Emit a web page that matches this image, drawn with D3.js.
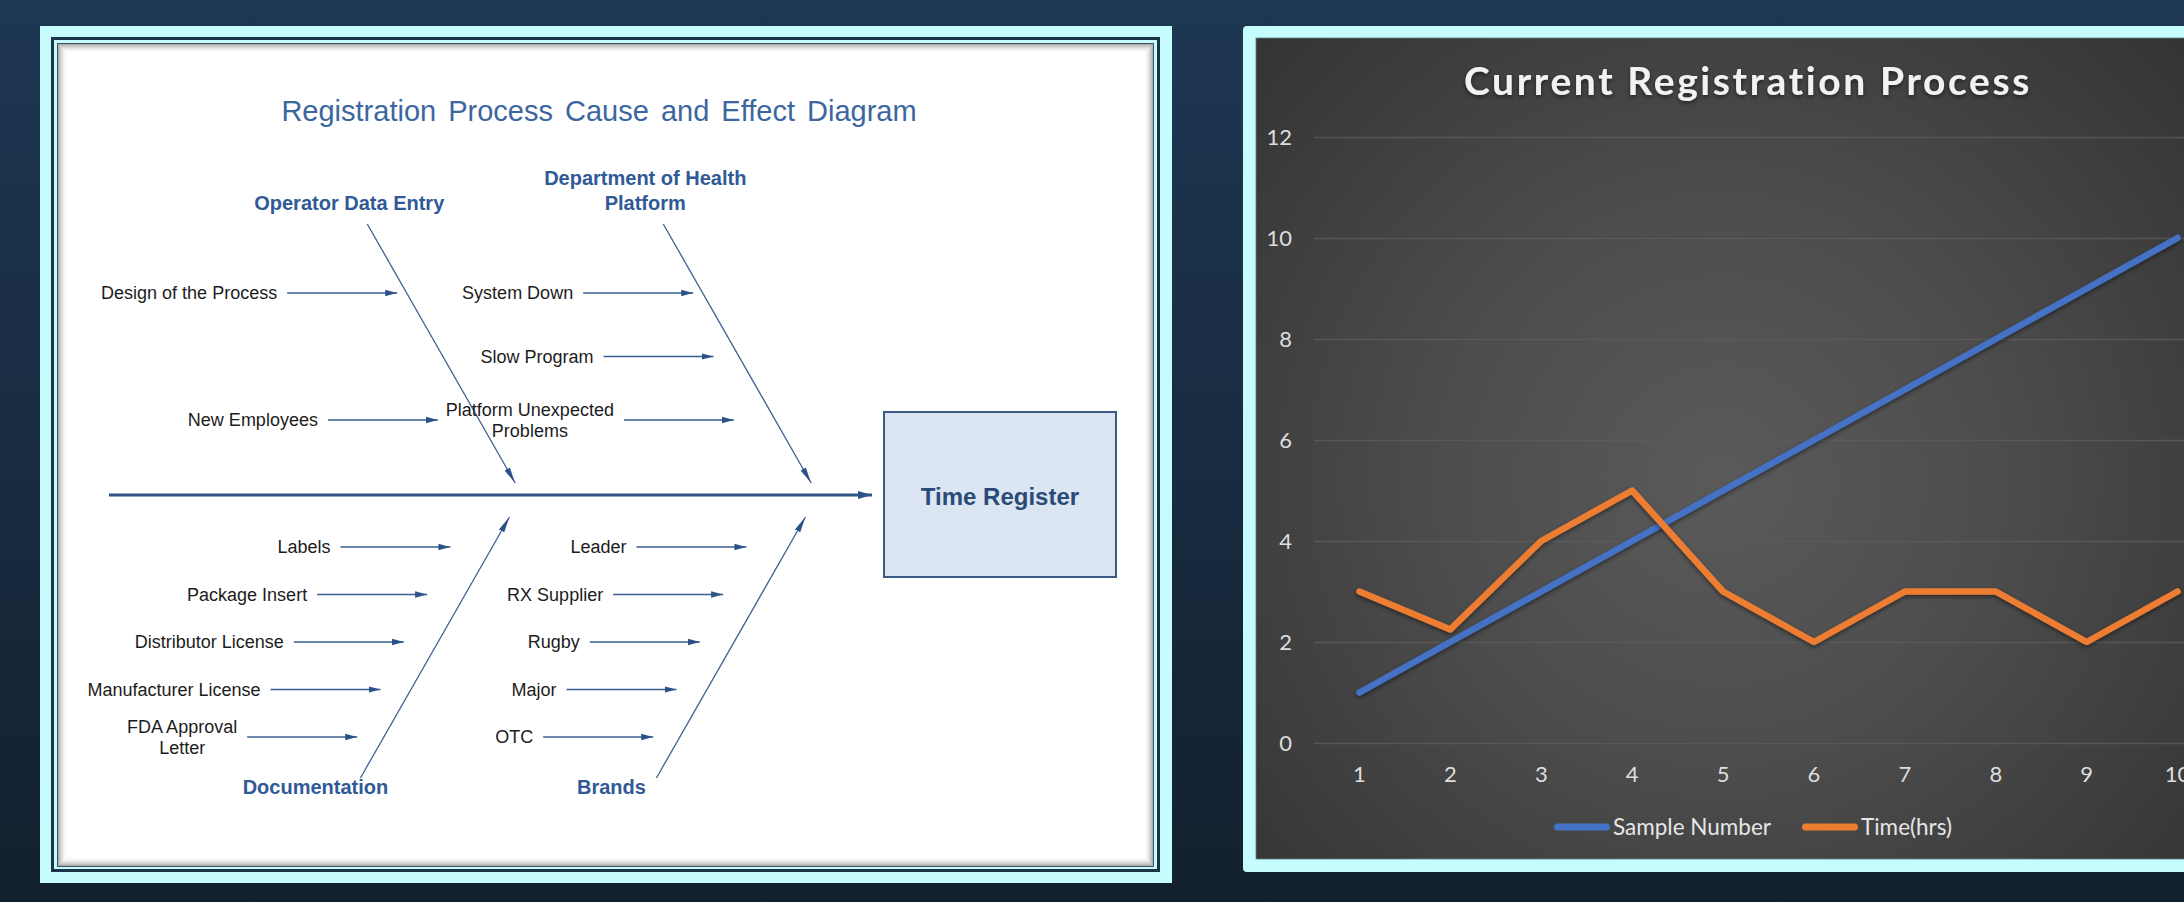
<!DOCTYPE html>
<html>
<head>
<meta charset="utf-8">
<script src="https://cdn.jsdelivr.net/npm/d3@7"></script>
<style>
html, body { margin: 0; padding: 0; }
body { width: 2184px; height: 902px; overflow: hidden; background: linear-gradient(#1e3753, #13202f); }
</style>
</head>
<body>
<div id="chart"></div>
<script>
// ---- fishbone data ----
var effect = "Time Register";
var diagramTitle = "Registration Process Cause and Effect Diagram";
var categories = ["Operator Data Entry", "Department of Health|Platform", "Documentation", "Brands"];
var operatorCauses = ["Design of the Process", "New Employees"];
var healthCauses = ["System Down", "Slow Program", "Platform Unexpected|Problems"];
var documentationCauses = ["Labels", "Package Insert", "Distributor License", "Manufacturer License", "FDA Approval|Letter"];
var brandCauses = ["Leader", "RX Supplier", "Rugby", "Major", "OTC"];
var causes = [operatorCauses, healthCauses, documentationCauses, brandCauses];

// ---- line chart data ----
var chartTitle = "Current Registration Process";
var samples = [1, 2, 3, 4, 5, 6, 7, 8, 9, 10];
var sampleNumber = [1, 2, 3, 4, 5, 6, 7, 8, 9, 10];
var timeHrs = [3, 2.25, 4, 5, 3, 2, 3, 3, 2, 3];
var yTicks = [0, 2, 4, 6, 8, 10, 12];
var seriesNames = ["Sample Number", "Time(hrs)"];
var seriesColors = ["#4472c4", "#ed7d31"];

var W = 2184, H = 902;
var svg = d3.select("#chart").append("svg").attr("width", W).attr("height", H);
var defs = svg.append("defs");

var cyan = "#c6fcfd";
var navy = "#1c3449";

defs.append("marker").attr("id", "arrow")
	.attr("viewBox", "0 0 12 8").attr("refX", 12).attr("refY", 4)
	.attr("markerWidth", 12).attr("markerHeight", 8)
	.attr("markerUnits", "userSpaceOnUse").attr("orient", "auto")
	.append("path").attr("d", "M0,0.8 L12,4 L0,7.2 Z").attr("fill", "#2c5289");
defs.append("marker").attr("id", "arrowBone")
	.attr("viewBox", "0 0 16 8").attr("refX", 16).attr("refY", 4)
	.attr("markerWidth", 16).attr("markerHeight", 8)
	.attr("markerUnits", "userSpaceOnUse").attr("orient", "auto")
	.append("path").attr("d", "M0,1 L16,4 L0,7 Z").attr("fill", "#2c5289");
defs.append("marker").attr("id", "arrowBig")
	.attr("viewBox", "0 0 14 10").attr("refX", 14).attr("refY", 5)
	.attr("markerWidth", 14).attr("markerHeight", 10)
	.attr("markerUnits", "userSpaceOnUse").attr("orient", "auto")
	.append("path").attr("d", "M0,1 L14,5 L0,9 Z").attr("fill", "#2c5289");

var grad = defs.append("radialGradient").attr("id", "plotBg")
	.attr("gradientUnits", "userSpaceOnUse")
	.attr("cx", 1720).attr("cy", 480).attr("r", 780);
grad.append("stop").attr("offset", 0).attr("stop-color", "#5a5a5a");
grad.append("stop").attr("offset", 0.35).attr("stop-color", "#4d4d4d");
grad.append("stop").attr("offset", 1).attr("stop-color", "#2a2a2a");

var shadow = defs.append("filter").attr("id", "shadow")
	.attr("x", "-10%").attr("y", "-10%").attr("width", "120%").attr("height", "130%");
shadow.append("feDropShadow").attr("dx", 0).attr("dy", 2).attr("stdDeviation", 2)
	.attr("flood-color", "#000").attr("flood-opacity", 0.5);

// =========== left panel: fishbone ===========
var left = svg.append("g");
left.append("rect").attr("x", 40).attr("y", 26).attr("width", 1132).attr("height", 857).attr("fill", cyan);
left.append("rect").attr("x", 52.5).attr("y", 38.5).attr("width", 1106).attr("height", 832)
	.attr("fill", cyan).attr("stroke", navy).attr("stroke-width", 3);
left.append("rect").attr("x", 57.5).attr("y", 43.5).attr("width", 1096).attr("height", 823)
	.attr("fill", "#fff").attr("stroke", "#3b5566").attr("stroke-width", 1);
// inner shadow of the picture
for (var s = 0; s < 9; s++) {
	left.append("rect")
		.attr("x", 58.5 + s).attr("y", 44.5 + s)
		.attr("width", 1094 - 2 * s).attr("height", 821 - 2 * s)
		.attr("fill", "none").attr("stroke", "#000")
		.attr("stroke-opacity", 0.32 * Math.pow(1 - s / 9, 2));
}

var fb = left.append("g").style("font-family", "'Liberation Sans', Arial, sans-serif");

fb.append("text").attr("x", 599).attr("y", 121)
	.attr("text-anchor", "middle").attr("font-size", 29).attr("word-spacing", 4)
	.attr("fill", "#3c66a0").text(diagramTitle);

var spineY = 495, spineX0 = 109, spineX1 = 872;
var slope = 0.571;
var boneRoot = [522, 818, 522, 818];
var topY0 = spineY - 271, topY1 = spineY - 12;
var botY0 = spineY + 283, botY1 = spineY + 22;
var boneX = function(i, yy) { return boneRoot[i] - slope * Math.abs(spineY - yy); };
// cause arrows stop short of the bone, less so far from the spine
var arrowGap = function(isTop, yy) {
	var d = Math.abs(spineY - yy);
	return isTop ? 60 - 0.25 * d : 46 - 0.08 * d;
};

fb.append("line").attr("x1", spineX0).attr("y1", spineY).attr("x2", spineX1).attr("y2", spineY)
	.attr("stroke", "#2f5384").attr("stroke-width", 3).attr("marker-end", "url(#arrowBig)");

// effect box
fb.append("rect").attr("x", 884).attr("y", 412).attr("width", 232).attr("height", 165)
	.attr("fill", "#dce6f3").attr("stroke", "#3b5a84").attr("stroke-width", 2);
fb.append("text").attr("x", 1000).attr("y", 497).attr("dy", "0.35em")
	.attr("text-anchor", "middle").attr("font-size", 24).attr("font-weight", "bold")
	.attr("fill", "#2a4a78").text(effect);

var topRows = d3.scalePoint().range([293, 420]);
var botRows = d3.scalePoint().range([547, 737]);

categories.forEach(function(cat, i) {
	var isTop = i < 2;
	var yStart = isTop ? topY0 : botY0, yEnd = isTop ? topY1 : botY1;
	fb.append("line")
		.attr("x1", boneX(i, yStart)).attr("y1", yStart)
		.attr("x2", boneX(i, yEnd)).attr("y2", yEnd)
		.attr("stroke", "#3e6393").attr("stroke-width", 1.3)
		.attr("marker-end", "url(#arrowBone)");

	// category label
	var lines = cat.split("|");
	var lx = isTop ? boneX(i, yStart) - 18 : boneX(i, yStart) - 45;
	var ly = isTop ? yStart - 21 - (lines.length - 1) * 25 : yStart + 9;
	var t = fb.append("text").attr("text-anchor", "middle").attr("font-size", 20)
		.attr("font-weight", "bold").attr("fill", "#2f5a96");
	lines.forEach(function(l, j) {
		t.append("tspan").attr("x", lx).attr("y", ly + j * 25).attr("dy", "0.35em").text(l);
	});

	// causes
	var rows = (isTop ? topRows : botRows).copy().domain(d3.range(causes[i].length));
	causes[i].forEach(function(c, k) {
		var cy = rows(k);
		var tip = boneX(i, cy) - arrowGap(isTop, cy), start = tip - 110;
		fb.append("line").attr("x1", start).attr("y1", cy).attr("x2", tip).attr("y2", cy)
			.attr("stroke", "#3a5f90").attr("stroke-width", 1.6).attr("marker-end", "url(#arrow)");
		var parts = c.split("|");
		var lab = fb.append("text").attr("font-size", 18).attr("fill", "#1c1c1c");
		if (parts.length === 1) {
			lab.attr("text-anchor", "end").attr("x", start - 10).attr("y", cy).attr("dy", "0.35em").text(c);
		} else {
			lab.attr("text-anchor", "middle");
			var spans = parts.map(function(p, j) {
				return lab.append("tspan").attr("y", cy + (j - (parts.length - 1) / 2) * 21)
					.attr("dy", "0.35em").text(p);
			});
			var maxW = d3.max(spans, function(sp) { return sp.node().getComputedTextLength(); });
			spans.forEach(function(sp) { sp.attr("x", start - 10 - maxW / 2); });
		}
	});
});

// =========== right panel: line chart ===========
var right = svg.append("g").style("font-family", "Lato, 'Open Sans', sans-serif");
right.append("rect").attr("x", 1243).attr("y", 26).attr("width", 1000).attr("height", 846)
	.attr("rx", 4).attr("fill", cyan);
right.append("rect").attr("x", 1256).attr("y", 38).attr("width", 1000).attr("height", 821)
	.attr("fill", "url(#plotBg)").attr("stroke", "#5f7c80").attr("stroke-width", 0.8);

var x = d3.scaleBand().domain(samples).range([1314, 2223]);
var y = d3.scaleLinear().domain([0, 12]).range([743, 137]);

right.append("text").attr("x", 1748).attr("y", 95)
	.attr("text-anchor", "middle").attr("font-size", 39).attr("font-weight", "bold")
	.attr("letter-spacing", 2.6).attr("fill", "#f2f2f2").attr("filter", "url(#shadow)")
	.text(chartTitle);

var yAxis = right.append("g").attr("transform", "translate(1314,0)")
	.call(d3.axisLeft(y).tickValues(yTicks).tickSize(-(2223 - 1314)).tickPadding(22));
yAxis.select(".domain").remove();
yAxis.selectAll(".tick line").attr("stroke", "#5c5c5c").attr("stroke-width", 1.4).attr("stroke-opacity", 0.8);
yAxis.selectAll(".tick text").attr("font-size", 22).attr("fill", "#dedede").style("font-family", "Lato, sans-serif");

var xAxis = right.append("g").attr("transform", "translate(0,743)")
	.call(d3.axisBottom(x).tickSize(0).tickPadding(23));
xAxis.select(".domain").remove();
xAxis.selectAll(".tick text").attr("font-size", 22).attr("fill", "#dedede").style("font-family", "Lato, sans-serif");

var series = [sampleNumber, timeHrs];
var line = d3.line()
	.x(function(d, i) { return x(samples[i]) + x.bandwidth() / 2; })
	.y(function(d) { return y(d); });

series.forEach(function(vals, si) {
	right.append("path").datum(vals)
		.attr("d", line).attr("fill", "none")
		.attr("stroke", seriesColors[si]).attr("stroke-width", 6.5)
		.attr("stroke-linecap", "round").attr("stroke-linejoin", "round")
		.attr("filter", "url(#shadow)");
});

// legend
var legY = 827;
var leg = right.append("g");
var items = seriesNames.map(function(name, i) {
	var g = leg.append("g");
	g.append("line").attr("x1", 3.5).attr("x2", 52.5).attr("y1", legY).attr("y2", legY)
		.attr("stroke", seriesColors[i]).attr("stroke-width", 7).attr("stroke-linecap", "round");
	var t = g.append("text").attr("x", 59).attr("y", legY).attr("dy", "0.35em")
		.attr("font-size", 22.5).attr("fill", "#e6e6e6").text(name);
	return { g: g, w: 59 + t.node().getComputedTextLength() };
});
var gap = 31;
var pos = 1554;
items.forEach(function(it) {
	it.g.attr("transform", "translate(" + pos + ",0)");
	pos += it.w + gap;
});
</script>
</body>
</html>
